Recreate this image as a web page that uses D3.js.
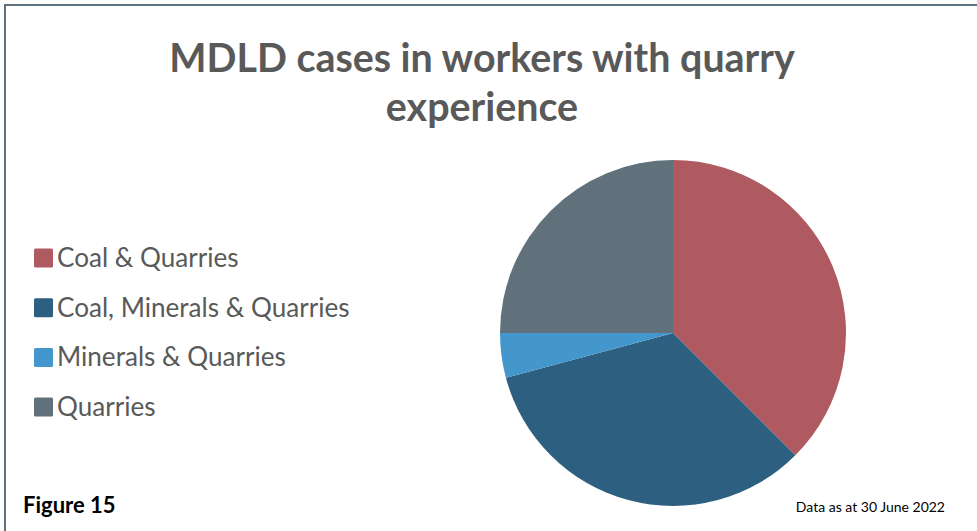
<!DOCTYPE html>
<html>
<head>
<meta charset="utf-8">
<script src="https://cdn.jsdelivr.net/npm/d3@7"></script>
<style>
  body { margin: 0; background: #fff; }
  svg { display: block; font-family: Lato, "Open Sans", sans-serif; }
</style>
</head>
<body>
<svg id="chart" width="977" height="531"></svg>
<script>
// data (case counts)
const categories = ['Coal & Quarries', 'Coal, Minerals & Quarries', 'Minerals & Quarries', 'Quarries'];
const cases = [9, 8, 1, 6];
const colours = ['#af5a60', '#2c5f80', '#4397cc', '#61717c'];
const titleLines = ['MDLD cases in workers with quarry', 'experience'];

const svg = d3.select('#chart');
const width = 977, height = 531;

// frame (left + top only show in the picture)
svg.append('path')
    .attr('d', `M5 ${height} L5 5 L${width} 5`)
    .attr('fill', 'none')
    .attr('stroke', '#5f7280')
    .attr('stroke-width', 2);

// title
svg.append('text')
    .attr('text-anchor', 'middle')
    .attr('fill', '#595959')
    .style('font-weight', 700)
    .style('font-size', '39.4px')
    .selectAll('tspan')
    .data(titleLines)
    .join('tspan')
    .attr('x', 482)
    .attr('y', (d, i) => 72 + i * 49)
    .text(d => d);

// pie
const cx = 673, cy = 333, r = 173;
const pie = d3.pie().sort(null).value(d => d.value);
const arc = d3.arc().innerRadius(0).outerRadius(r);
const rows = categories.map((c, i) => ({ name: c, value: cases[i], colour: colours[i] }));
const color = d3.scaleOrdinal().domain(categories).range(colours);

svg.append('g')
    .attr('transform', `translate(${cx},${cy})`)
    .selectAll('path')
    .data(pie(rows))
    .join('path')
    .attr('d', arc)
    .attr('fill', d => color(d.data.name));

// legend
const legend = svg.append('g').attr('transform', 'translate(34,258)');
const item = legend.selectAll('g')
    .data(categories)
    .join('g')
    .attr('transform', (d, i) => `translate(0,${i * 49.7})`);
item.append('rect')
    .attr('x', 0).attr('y', -9.5)
    .attr('width', 19).attr('height', 19)
    .attr('rx', 1.5)
    .attr('fill', d => color(d));
item.append('text')
    .attr('x', 23).attr('y', 9)
    .attr('fill', '#595959')
    .style('font-size', '26.1px')
    .text(d => d);

// footer
svg.append('text')
    .attr('x', 23).attr('y', 513)
    .style('font-weight', 700)
    .style('font-size', '22px')
    .attr('fill', '#000')
    .text('Figure 15');
svg.append('text')
    .attr('x', 945).attr('y', 512)
    .attr('text-anchor', 'end')
    .style('font-size', '14px')
    .attr('fill', '#000')
    .text('Data as at 30 June 2022');
</script>
</body>
</html>
